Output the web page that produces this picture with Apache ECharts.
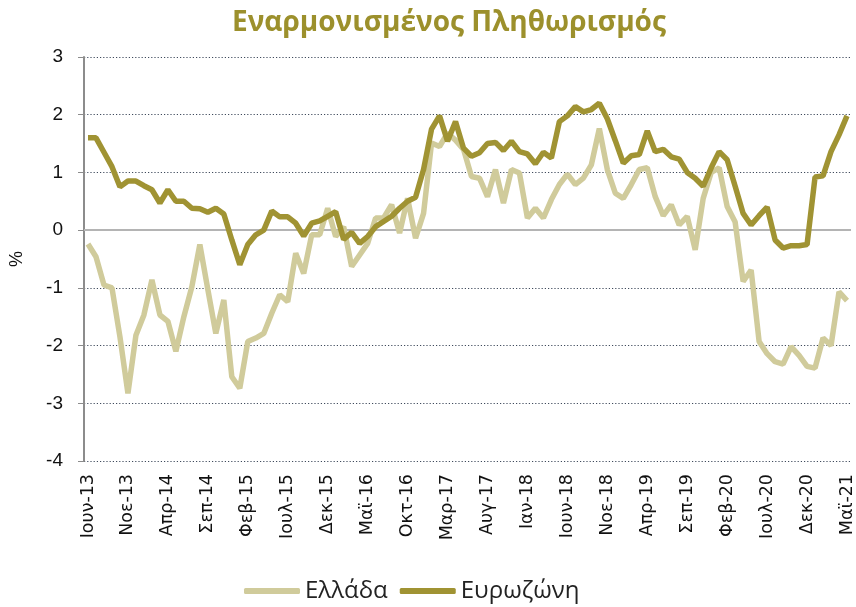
<!DOCTYPE html>
<html><head><meta charset="utf-8">
<script src="https://cdn.jsdelivr.net/npm/echarts@6/dist/echarts.min.js"></script>
<style>html,body{margin:0;padding:0;background:#fff}#c{width:856px;height:607px}</style>
</head><body><div id="c"></div>
<script>
const title = 'Εναρμονισμένος Πληθωρισμός';
const monthNames = ['Ιαν','Φεβ','Μαρ','Απρ','Μαϊ','Ιουν','Ιουλ','Αυγ','Σεπ','Οκτ','Νοε','Δεκ'];
const startYear = 2013, startMonth = 5, nMonths = 96;
const categories = [];
for (let k = 0; k < nMonths; k++) {
  const m = (startMonth + k) % 12, y = startYear + Math.floor((startMonth + k) / 12);
  categories.push(monthNames[m] + '-' + String(y).slice(2));
}
const greece = [-0.24,-0.46,-0.95,-1.0,-1.85,-2.83,-1.82,-1.47,-0.86,-1.47,-1.58,-2.1,-1.5,-0.98,-0.25,-1.03,-1.79,-1.21,-2.54,-2.74,
-1.93,-1.87,-1.79,-1.44,-1.12,-1.24,-0.4,-0.75,-0.08,-0.08,0.38,-0.11,0.06,-0.63,-0.43,-0.23,0.21,0.21,0.44,-0.05,
0.55,-0.14,0.29,1.51,1.45,1.68,1.56,1.4,0.93,0.9,0.58,1.05,0.47,1.05,0.99,0.21,0.38,0.21,0.53,0.79,
0.97,0.79,0.9,1.13,1.76,1.05,0.64,0.55,0.79,1.05,1.08,0.58,0.25,0.44,0.09,0.24,-0.34,0.55,1.0,1.08,
0.41,0.14,-0.89,-0.69,-1.93,-2.14,-2.28,-2.32,-2.02,-2.17,-2.36,-2.39,-1.87,-2.0,-1.07,-1.22];
const eurozone = [1.6,1.6,1.35,1.1,0.75,0.85,0.85,0.77,0.7,0.47,0.7,0.5,0.5,0.38,0.37,0.31,0.38,0.28,-0.17,-0.6,
-0.25,-0.08,0.0,0.33,0.23,0.23,0.12,-0.1,0.12,0.16,0.24,0.32,-0.16,-0.04,-0.23,-0.11,0.06,0.15,0.24,0.38,
0.5,0.57,1.05,1.75,1.98,1.54,1.88,1.42,1.28,1.34,1.5,1.52,1.38,1.54,1.36,1.32,1.15,1.35,1.25,1.88,
1.98,2.14,2.05,2.09,2.2,1.93,1.55,1.16,1.29,1.31,1.72,1.36,1.4,1.27,1.23,1.0,0.9,0.76,1.08,1.36,
1.22,0.76,0.29,0.09,0.25,0.4,-0.17,-0.31,-0.27,-0.27,-0.25,0.92,0.94,1.36,1.65,1.98];
const seriesNames = ['Ελλάδα','Ευρωζώνη'];
const colors = ['#d0cb9b','#a09333'];

const chart = echarts.init(document.getElementById('c'));
chart.setOption({
  animation: false,
  title: { text: title, left: 227, top: 4,
    textStyle: { fontFamily: 'Liberation Sans Narrow, Open Sans', fontWeight: 'bold', fontSize: 28, color: '#9c902c' } },
  legend: { top: 574, left: 239, itemWidth: 56, itemHeight: 6, icon: 'roundRect', itemGap: 12,
    textStyle: { fontFamily: 'Liberation Sans Narrow, Open Sans', fontSize: 24, color: '#222' },
    data: seriesNames },
  grid: { left: 81, right: 5, top: 57, bottom: 146 },
  xAxis: { type: 'category', data: categories, boundaryGap: true,
    axisLine: { show: false }, axisTick: { show: false },
    axisLabel: { interval: 4, rotate: 90, margin: 13, fontFamily: 'DejaVu Sans', fontSize: 17.5, color: '#111' } },
  yAxis: { type: 'value', min: -4, max: 3, interval: 1, name: '%', nameLocation: 'middle', nameGap: 58, nameRotate: 90,
    nameTextStyle: { fontFamily: 'Liberation Sans, Arial', fontSize: 18, color: '#111' },
    axisLine: { show: true, lineStyle: { color: '#8c8c8c', width: 2 } },
    axisTick: { show: true, length: 6, lineStyle: { color: '#8c8c8c', width: 1 } },
    axisLabel: { margin: 21, fontFamily: 'Liberation Sans, Arial', fontSize: 19, color: '#111' },
    splitLine: { show: true, lineStyle: { color: '#3f4a5c', width: 1.2, type: [1.2, 2] } } },
  series: [
    { name: seriesNames[0], type: 'line', data: greece, symbol: 'none', lineStyle: { width: 5.5, color: colors[0] }, itemStyle: { color: colors[0] }, z: 2,
      markLine: { silent: true, symbol: 'none', label: { show: false }, lineStyle: { color: '#b4b4b4', type: 'solid', width: 2 }, data: [{ yAxis: 0 }], z: 1 } },
    { name: seriesNames[1], type: 'line', data: eurozone, symbol: 'none', lineStyle: { width: 5.5, color: colors[1] }, itemStyle: { color: colors[1] }, z: 3 }
  ]
});
</script></body></html>
